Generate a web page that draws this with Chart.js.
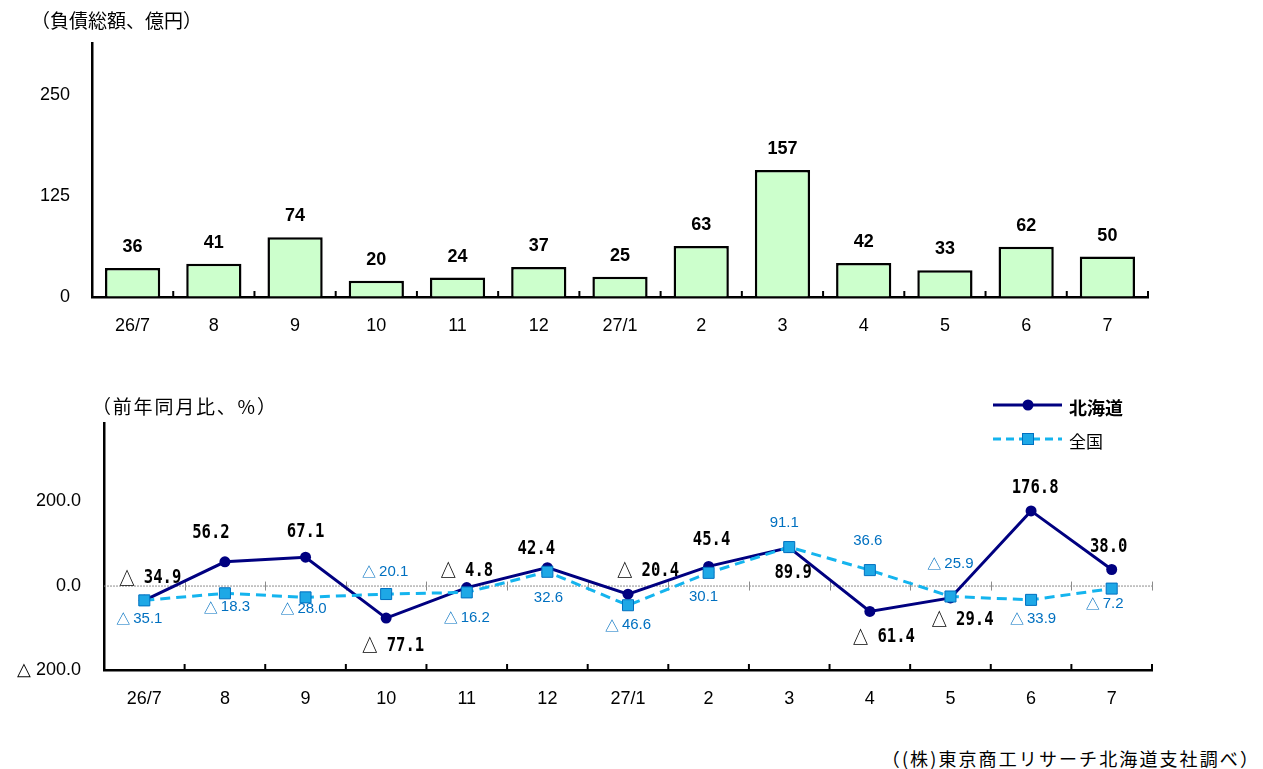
<!DOCTYPE html>
<html><head><meta charset="utf-8">
<script src="https://cdn.jsdelivr.net/npm/chart.js@4.4.0/dist/chart.umd.min.js"></script>
<style>
html,body{margin:0;padding:0;background:#fff;width:1263px;height:769px;overflow:hidden;position:relative;font-family:"Noto Sans CJK JP",sans-serif;}
canvas{position:absolute;left:0;}
#c1{top:0;}
#c2{top:360px;}
.t{position:absolute;white-space:nowrap;color:#000;line-height:1;}
</style></head><body>
<canvas id="c1" width="1263" height="360"></canvas>
<canvas id="c2" width="1263" height="360"></canvas>
<div class="t" style="left:31px;top:10px;font-size:19px;">（負債総額、億円）</div>
<div class="t" style="left:92px;top:396px;font-size:19px;letter-spacing:1.8px;">（前年同月比、%）</div>
<div class="t" style="right:3px;top:749px;font-size:18px;letter-spacing:2.1px;">（(株)東京商工リサーチ北海道支社調べ）</div>
<script>
// ---- data ----
const categories = ['26/7','8','9','10','11','12','27/1','2','3','4','5','6','7'];
const debtTotal = [36,41,74,20,24,37,25,63,157,42,33,62,50];
const debtTicks = [0,125,250];
const hokkaidoYoY = [-34.9,56.2,67.1,-77.1,-4.8,42.4,-20.4,45.4,89.9,-61.4,-29.4,176.8,38.0];
const nationalYoY = [-35.1,-18.3,-28.0,-20.1,-16.2,32.6,-46.6,30.1,91.1,36.6,-25.9,-33.9,-7.2];
const yoyTicks = [-200,0,200];

// ---- label placement (pixel offsets from each point) ----
const hkLabelOffsets = [[6,-22],[-14,-29],[0,-25],[7,28],[0,-17],[-11,-19],[20,-23],[3,-26],[4,25],[14,26],[12,22],[4,-23],[-3,-22]];
const natLabelOffsets = [[-5,18],[2,14],[-2,11],[-1,-22],[0,25],[1,26],[0,20],[-5,24],[-5,-24],[-2,-29],[0,-33],[2,19],[-7,15]];

const NAVY = '#000080';
const LBLUE = '#14B4EE';
const MBLUE = '#1EA8E6';
const DBLUE = '#0070C0';
const TRI = '△';

function innerTicks(chart, len){
  const xs = chart.scales.x, ctx = chart.ctx, yb = chart.chartArea.bottom;
  ctx.save(); ctx.strokeStyle = '#000'; ctx.lineWidth = 2;
  for (let i = 1; i <= categories.length; i++){
    const x = xs.getPixelForValue(i - 0.5);
    ctx.beginPath(); ctx.moveTo(x, yb); ctx.lineTo(x, yb - len); ctx.stroke();
  }
  ctx.restore();
}

// draws "△" (in a CJK font) + number text, centred on (cx, cy)
function drawSigned(ctx, value, cx, cy, numFont, triFont, gap, sx){
  const num = Math.abs(value).toFixed(1);
  ctx.save();
  ctx.translate(cx, cy); ctx.scale(sx, 1);
  ctx.textBaseline = 'middle'; ctx.textAlign = 'left';
  ctx.font = numFont; const wn = ctx.measureText(value < 0 ? num : value.toFixed(1)).width;
  let wt = 0;
  if (value < 0){ ctx.font = triFont; wt = ctx.measureText(TRI).width + gap; }
  let x = -(wn + wt) / 2;
  if (value < 0){ ctx.font = triFont; ctx.fillText(TRI, x, 0); x += wt; }
  ctx.font = numFont; ctx.fillText(value < 0 ? num : value.toFixed(1), x, 0);
  ctx.restore();
}

const barPlugin = {
  id: 'barExtras',
  afterDraw(chart){
    innerTicks(chart, 6);
    const ctx = chart.ctx;
    const meta = chart.getDatasetMeta(0);
    ctx.save();
    ctx.fillStyle = '#000';
    ctx.font = 'bold 18px "Liberation Sans", Arial, sans-serif';
    ctx.textAlign = 'center'; ctx.textBaseline = 'middle';
    meta.data.forEach((bar, i) => {
      ctx.fillText(String(debtTotal[i]), bar.x, bar.y - 21);
    });
    ctx.restore();
  }
};

new Chart(document.getElementById('c1'), {
  type: 'bar',
  data: { labels: categories, datasets: [{
    data: debtTotal, backgroundColor: '#CCFFCC', borderColor: '#000', borderWidth: 2.5,
    categoryPercentage: 1, barPercentage: 0.68
  }]},
  options: {
    responsive: false, animation: false,
    layout: { padding: { left: 0, right: 115, top: 43, bottom: 0 } },
    plugins: { legend: { display: false }, tooltip: { enabled: false } },
    scales: {
      x: {
        grid: { drawOnChartArea: false, drawTicks: false },
        border: { color: '#000', width: 2.5 },
        ticks: { padding: 18, color: '#000', font: { family: '"Liberation Sans", Arial, sans-serif', size: 18 } },
        afterFit(s){ s.height = 63; }
      },
      y: {
        min: 0, max: 314,
        afterBuildTicks(s){ s.ticks = debtTicks.map(v => ({ value: v })); },
        grid: { drawOnChartArea: false, drawTicks: false },
        border: { color: '#000', width: 2.5 },
        ticks: { padding: 22, color: '#000', font: { family: '"Liberation Sans", Arial, sans-serif', size: 18 } },
        afterFit(s){ s.width = 92; }
      }
    }
  },
  plugins: [barPlugin]
});

function fmtAxis(v){ return v < 0 ? '△ ' + Math.abs(v).toFixed(1) : v.toFixed(1); }

const linePlugin = {
  id: 'lineExtras',
  beforeDatasetsDraw(chart){
    const ctx = chart.ctx, xs = chart.scales.x, ys = chart.scales.y, a = chart.chartArea;
    const y0 = ys.getPixelForValue(0);
    ctx.save();
    ctx.strokeStyle = '#8c8c8c'; ctx.lineWidth = 1; ctx.setLineDash([2,1]);
    ctx.beginPath(); ctx.moveTo(a.left, y0 + 0.5); ctx.lineTo(a.right, y0 + 0.5); ctx.stroke();
    ctx.setLineDash([]);
    for (let i = 1; i <= categories.length; i++){
      const x = Math.round(xs.getPixelForValue(i - 0.5)) + 0.5;
      ctx.beginPath(); ctx.moveTo(x, y0 - 4); ctx.lineTo(x, y0 + 5); ctx.stroke();
    }
    ctx.restore();
  },
  afterDraw(chart){
    innerTicks(chart, 6);
    const ctx = chart.ctx;
    ctx.save();
    // Hokkaido labels
    const m0 = chart.getDatasetMeta(0);
    ctx.fillStyle = '#000';
    m0.data.forEach((p, i) => {
      const o = hkLabelOffsets[i];
      drawSigned(ctx, hokkaidoYoY[i], p.x + o[0], p.y + o[1],
        'bold 19px "DejaVu Sans Mono", "Liberation Mono", monospace',
        'bold 19px "Noto Sans CJK JP", sans-serif', 11, 0.82);
    });
    // National labels
    const m1 = chart.getDatasetMeta(1);
    ctx.fillStyle = DBLUE;
    m1.data.forEach((p, i) => {
      const o = natLabelOffsets[i];
      drawSigned(ctx, nationalYoY[i], p.x + o[0], p.y + o[1],
        '15px "Liberation Sans", Arial, sans-serif',
        '14px "Noto Sans CJK JP", sans-serif', 3, 1);
    });
    // legend
    ctx.lineWidth = 3; ctx.strokeStyle = NAVY;
    ctx.beginPath(); ctx.moveTo(993, 45); ctx.lineTo(1062, 45); ctx.stroke();
    ctx.fillStyle = NAVY; ctx.beginPath(); ctx.arc(1028, 45, 5.5, 0, Math.PI*2); ctx.fill();
    ctx.strokeStyle = LBLUE; ctx.setLineDash([8,5]);
    ctx.beginPath(); ctx.moveTo(993, 79); ctx.lineTo(1062, 79); ctx.stroke();
    ctx.setLineDash([]);
    ctx.fillStyle = MBLUE; ctx.fillRect(1022.5, 73.5, 11, 11);
    ctx.strokeStyle = DBLUE; ctx.lineWidth = 1; ctx.strokeRect(1022.5, 73.5, 11, 11);
    ctx.fillStyle = '#000'; ctx.textAlign = 'left'; ctx.textBaseline = 'middle';
    ctx.font = 'bold 18px "Noto Sans CJK JP", sans-serif';
    ctx.fillText('北海道', 1069, 48);
    ctx.font = '17px "Noto Sans CJK JP", sans-serif';
    ctx.fillText('全国', 1069, 82);
    ctx.restore();
  }
};

new Chart(document.getElementById('c2'), {
  type: 'line',
  data: { labels: categories, datasets: [
    { label: '北海道', data: hokkaidoYoY, order: 1, borderColor: NAVY, backgroundColor: NAVY,
      borderWidth: 3, pointStyle: 'circle', pointRadius: 5.5, pointBorderWidth: 0, tension: 0 },
    { label: '全国', data: nationalYoY, order: 0, borderColor: LBLUE, borderDash: [10,6], borderWidth: 3,
      pointStyle: 'rect', pointRadius: 7.8, pointBackgroundColor: MBLUE, pointBorderColor: DBLUE,
      pointBorderWidth: 1, tension: 0 }
  ]},
  options: {
    responsive: false, animation: false,
    layout: { padding: { left: 0, right: 111, top: 63, bottom: 0 } },
    plugins: { legend: { display: false }, tooltip: { enabled: false } },
    scales: {
      x: {
        offset: true,
        grid: { drawOnChartArea: false, drawTicks: false, offset: true },
        border: { color: '#000', width: 2.5 },
        ticks: { padding: 18, color: '#000', font: { family: '"Liberation Sans", Arial, sans-serif', size: 18 } },
        afterFit(s){ s.height = 50; }
      },
      y: {
        min: -200, max: 385,
        afterBuildTicks(s){ s.ticks = yoyTicks.map(v => ({ value: v })); },
        grid: { drawOnChartArea: false, drawTicks: false },
        border: { color: '#000', width: 2.5 },
        ticks: { padding: 23, color: '#000', font: { family: '"Liberation Sans", Arial, sans-serif', size: 18 },
          callback: v => fmtAxis(v) },
        afterFit(s){ s.width = 104; }
      }
    }
  },
  plugins: [linePlugin]
});
</script>
</body></html>
